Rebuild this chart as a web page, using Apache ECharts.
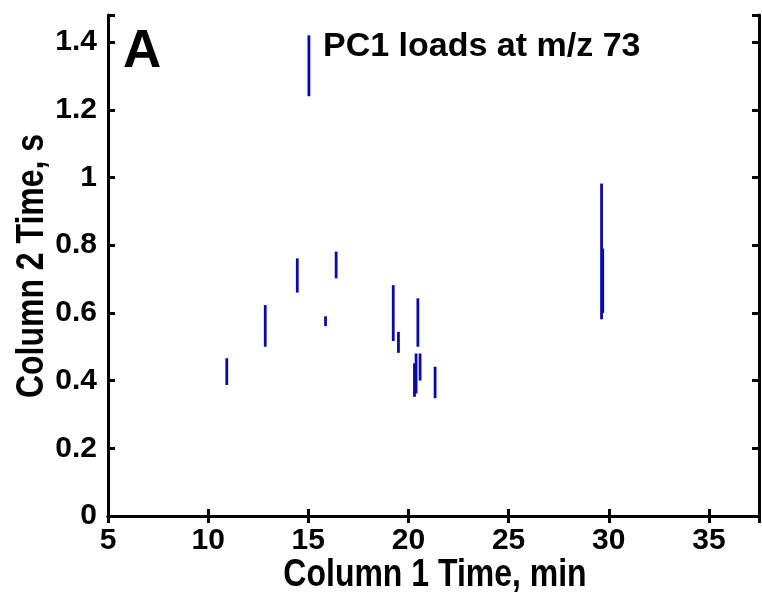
<!DOCTYPE html>
<html>
<head>
<meta charset="utf-8">
<script src="https://cdn.jsdelivr.net/npm/echarts@6/dist/echarts.min.js"></script>
<style>
  html, body { margin: 0; padding: 0; background: #fff; }
  #chart { width: 762px; height: 597px; }
</style>
</head>
<body>
<div id="chart"></div>
<script>
// peaks: each one a vertical stroke at column-1 time, spanning column-2 time top..bottom
var segX      = [15.03, 10.93, 12.85, 14.45, 15.86, 16.39, 19.24, 19.50, 20.47, 20.30, 20.38, 20.58, 21.33, 29.64, 29.70];
var segTop    = [1.42,  0.466, 0.623, 0.761, 0.590, 0.781, 0.682, 0.544, 0.643, 0.451, 0.480, 0.480, 0.441, 0.982, 0.790];
var segBottom = [1.24,  0.387, 0.500, 0.660, 0.561, 0.702, 0.517, 0.482, 0.500, 0.352, 0.362, 0.400, 0.348, 0.581, 0.600];

var xTicks = [5, 10, 15, 20, 25, 30, 35];
var yTicks = [0, 0.2, 0.4, 0.6, 0.8, 1, 1.2, 1.4];

var font = "'Liberation Sans', Arial, sans-serif";

var peaks = segX.map(function (x, i) {
    return [x, segTop[i], segBottom[i]];
});

var myChart = echarts.init(document.getElementById('chart'));

function showTick(list) {
    return function (v) {
        for (var i = 0; i < list.length; i++) {
            if (Math.abs(list[i] - v) < 1e-6) return String(list[i]);
        }
        return '';
    };
}

var axisLineStyle = { color: '#000', width: 3 };
var tickStyle = { inside: true, length: 7, lineStyle: { color: '#000', width: 3 } };

option = {
    backgroundColor: '#fff',
    animation: false,
    grid: { left: 108, top: 15, right: 1, bottom: 81, containLabel: false },
    graphic: [
        {
            type: 'text',
            left: 123, top: 26,
            style: { text: 'A', font: 'bold 53px ' + font, fill: '#000' }
        },
        {
            type: 'text',
            left: 323, top: 30,
            style: { text: 'PC1 loads at m/z 73', font: 'bold 34px ' + font, fill: '#000' }
        },
        // axis titles: the original lettering is tall and narrow
        {
            type: 'text',
            x: 435, y: 575, scaleX: 0.82,
            style: { text: 'Column 1 Time, min', font: 'bold 39px ' + font, fill: '#000', align: 'center', verticalAlign: 'middle' }
        },
        {
            type: 'text',
            x: 32, y: 266, scaleX: 0.82, rotation: Math.PI / 2,
            style: { text: 'Column 2 Time, s', font: 'bold 39px ' + font, fill: '#000', align: 'center', verticalAlign: 'middle' }
        }
    ],
    xAxis: [{
        type: 'value',
        min: 5, max: 37.5, interval: 5,
        axisLine: { lineStyle: axisLineStyle },
        axisTick: tickStyle,
        axisLabel: { margin: 10, color: '#000', fontFamily: font, fontWeight: 'bold', fontSize: 30, formatter: showTick(xTicks) },
        splitLine: { show: false }
    }, {
        type: 'value', position: 'top',
        min: 5, max: 37.5, interval: 5,
        axisLine: { lineStyle: axisLineStyle },
        axisTick: tickStyle,
        axisLabel: { show: false },
        splitLine: { show: false }
    }],
    yAxis: [{
        type: 'value',
        min: 0, max: 1.48, interval: 0.2,
        axisLine: { lineStyle: axisLineStyle },
        axisTick: tickStyle,
        axisLabel: { margin: 11, color: '#000', fontFamily: font, fontWeight: 'bold', fontSize: 30, formatter: showTick(yTicks) },
        splitLine: { show: false }
    }, {
        type: 'value', position: 'right',
        min: 0, max: 1.48, interval: 0.2,
        axisLine: { lineStyle: axisLineStyle },
        axisTick: tickStyle,
        axisLabel: { show: false },
        splitLine: { show: false }
    }],
    series: [{
        type: 'custom',
        xAxisIndex: 0,
        yAxisIndex: 0,
        encode: { x: 0, y: [1, 2] },
        renderItem: function (params, api) {
            var top = api.coord([api.value(0), api.value(1)]);
            var bot = api.coord([api.value(0), api.value(2)]);
            return {
                type: 'rect',
                shape: { x: top[0] - 1.4, y: top[1], width: 2.8, height: bot[1] - top[1] },
                style: { fill: '#0a0aa8' }
            };
        },
        data: peaks
    }]
};

myChart.setOption(option);
</script>
</body>
</html>
